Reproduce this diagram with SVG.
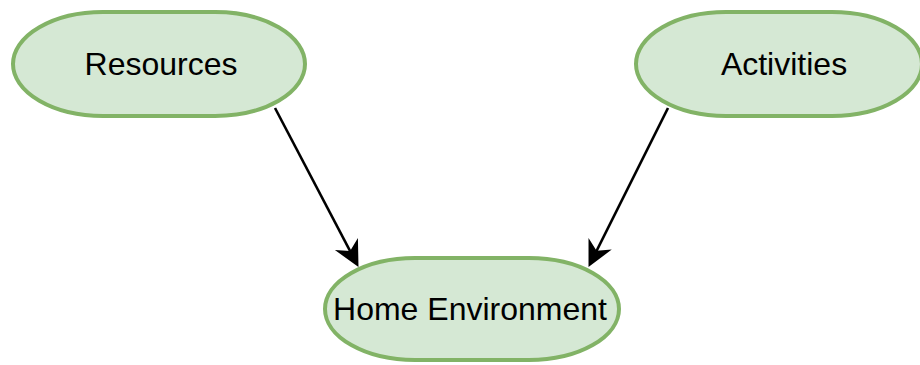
<svg xmlns="http://www.w3.org/2000/svg" width="920" height="365" viewBox="0 0 920 365">
  <style>
    .node { fill: #d5e8d4; stroke: #82b366; stroke-width: 4; }
    .label { font-family: "Liberation Sans", Arial, sans-serif; font-size: 32px; fill: #000; text-anchor: middle; }
    .edge { stroke: #000; stroke-width: 2.6; fill: none; }
  </style>
  <defs>
    <!-- classic arrowhead; the tip sits 6px past the end of the line -->
    <marker id="arrow" markerUnits="userSpaceOnUse" viewBox="-28 -15 30 30" refX="-6" refY="0" markerWidth="30" markerHeight="30" orient="auto">
      <path d="M0,0 L-26,-13 L-18,0 L-26,13 Z" fill="#000"/>
    </marker>
  </defs>

  <g id="edges">
    <line class="edge" x1="275" y1="108" x2="355.7" y2="261.7" marker-end="url(#arrow)"/>
    <line class="edge" x1="668" y1="108" x2="591.2" y2="261.6" marker-end="url(#arrow)"/>
  </g>

  <g id="resources">
    <rect class="node" x="13" y="12" width="292" height="104" rx="90" ry="52"/>
    <text class="label" x="161" y="75">Resources</text>
  </g>

  <g id="activities">
    <rect class="node" x="636" y="12" width="286" height="104" rx="90" ry="52"/>
    <text class="label" x="784" y="75">Activities</text>
  </g>

  <g id="home-environment">
    <rect class="node" x="325" y="258" width="294" height="102" rx="90" ry="51"/>
    <text class="label" x="470" y="320">Home Environment</text>
  </g>
</svg>
